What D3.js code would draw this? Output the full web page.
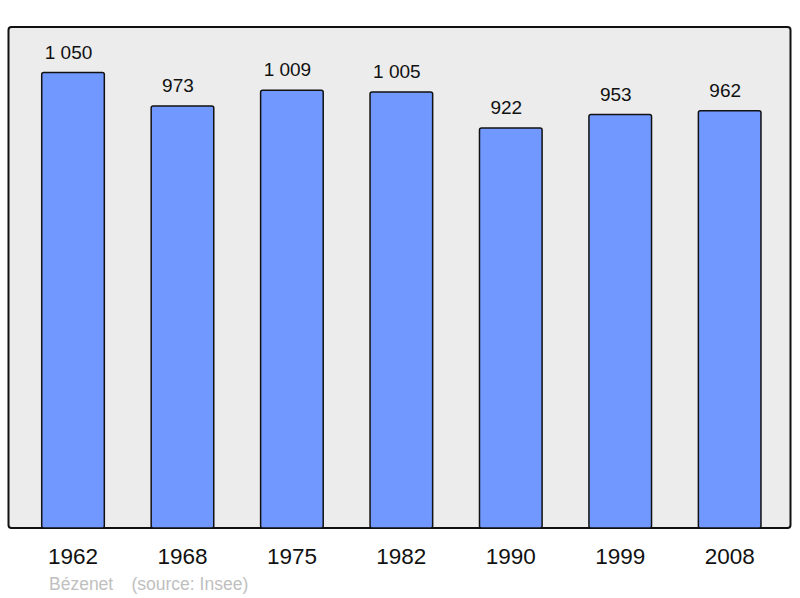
<!DOCTYPE html>
<html>
<head>
<meta charset="utf-8">
<script src="https://cdn.jsdelivr.net/npm/d3@7"></script>
<style>
  body { margin: 0; background: #fff; }
  text { font-family: "Liberation Sans", Arial, sans-serif; }
</style>
</head>
<body>
<svg id="chart" width="800" height="598"></svg>
<script>
// population by census year
const years  = ["1962", "1968", "1975", "1982", "1990", "1999", "2008"];
const values = [1050, 973, 1009, 1005, 922, 953, 962];
const valueLabels = ["1 050", "973", "1 009", "1 005", "922", "953", "962"];

const svg = d3.select("#chart");

const frame = { left: 8.5, top: 27, right: 790.5, bottom: 528 };

// frame
svg.append("rect")
  .attr("x", frame.left)
  .attr("y", frame.top)
  .attr("width", frame.right - frame.left)
  .attr("height", frame.bottom - frame.top)
  .attr("rx", 3)
  .attr("fill", "#ececec")
  .attr("stroke", "#111")
  .attr("stroke-width", 2);

const x = d3.scaleBand()
  .domain(years)
  .range([18.3, 784.4])
  .paddingInner(0.428)
  .paddingOuter(0.214);

const y = d3.scaleLinear()
  .domain([0, d3.max(values) * 1.1])
  .range([frame.bottom, frame.top]);

// bars
svg.append("g")
  .selectAll("rect")
  .data(values)
  .join("rect")
    .attr("x", (d, i) => x(years[i]))
    .attr("y", d => y(d))
    .attr("width", x.bandwidth())
    .attr("height", d => y(0) - y(d))
    .attr("rx", 2)
    .attr("fill", "#7098ff")
    .attr("stroke", "#111")
    .attr("stroke-width", 1.5);

// value labels (sit a little left of the bar centre, as in the original)
svg.append("g")
  .selectAll("text")
  .data(values)
  .join("text")
    .attr("x", (d, i) => x(years[i]) + x.bandwidth() / 2 - 4.5)
    .attr("y", d => y(d) - 14)
    .attr("text-anchor", "middle")
    .attr("font-size", 19)
    .attr("fill", "#111")
    .text((d, i) => valueLabels[i]);

// year labels
svg.append("g")
  .selectAll("text")
  .data(years)
  .join("text")
    .attr("x", d => x(d) + x.bandwidth() / 2)
    .attr("y", 564)
    .attr("text-anchor", "middle")
    .attr("font-size", 22.5)
    .attr("fill", "#111")
    .text(d => d);

// credits
svg.append("text")
  .attr("x", 49)
  .attr("y", 590)
  .attr("font-size", 17.5)
  .attr("fill", "#c0c0c0")
  .text("Bézenet");
svg.append("text")
  .attr("x", 131.5)
  .attr("y", 590)
  .attr("font-size", 17.5)
  .attr("fill", "#c0c0c0")
  .text("(source: Insee)");
</script>
</body>
</html>
